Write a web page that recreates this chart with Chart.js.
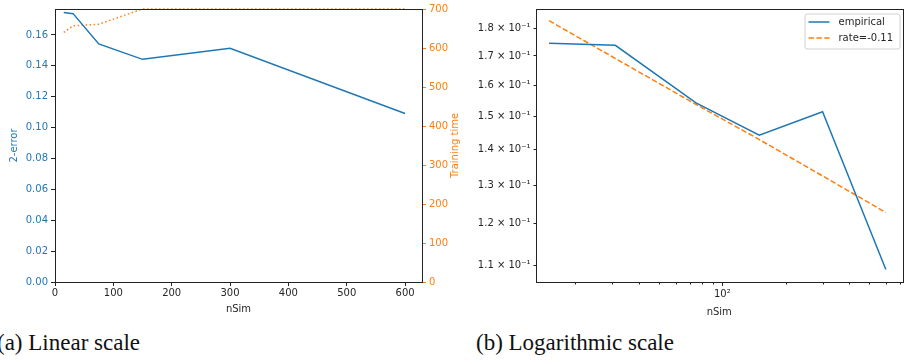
<!DOCTYPE html>
<html>
<head>
<meta charset="utf-8">
<script src="https://cdn.jsdelivr.net/npm/chart.js@4.4.1/dist/chart.umd.min.js"></script>
<style>
  body { margin: 0; background: #fff; width: 904px; height: 364px; overflow: hidden; position: relative; }
  .box { position: absolute; top: 0; height: 320px; }
  .cap { position: absolute; top: 330px; font-family: "Liberation Serif", serif; font-size: 23px; color: #111; white-space: nowrap; }
</style>
</head>
<body>
<div class="box" style="left:0;width:460px"><canvas id="linChart" width="460" height="320"></canvas></div>
<div class="box" style="left:460px;width:444px"><canvas id="logChart" width="444" height="320"></canvas></div>
<div class="cap" style="left:-3px">(a) Linear scale</div>
<div class="cap" style="left:476px">(b) Logarithmic scale</div>
<script>
const nSim = [15, 31, 75, 150, 300, 600]
const l2Error = [0.1745, 0.1738, 0.1542, 0.1442, 0.1514, 0.1091]
const trainingTime = [640, 657, 661, 700, 700, 700]
const rateFit = [0.1829, 0.1691, 0.1537, 0.1429, 0.1325, 0.1228]

const linXTicks = [0, 100, 200, 300, 400, 500, 600]
const errTicks = [0, 0.02, 0.04, 0.06, 0.08, 0.10, 0.12, 0.14, 0.16]
const timeTicks = [0, 100, 200, 300, 400, 500, 600, 700]
const logXTicks = [20, 30, 40, 50, 60, 70, 80, 90, 100, 200, 300, 400, 500, 600, 700]
const logXMajor = [100]
const logYTicks = [0.11, 0.12, 0.13, 0.14, 0.15, 0.16, 0.17, 0.18]

const blue = '#1f77b4'
const orange = '#ff7f0e'
const txt = '#262626'
Chart.defaults.font.family = 'DejaVu Sans'
Chart.defaults.font.size = 10
Chart.defaults.animation = false

const pts = (xs, ys) => xs.map((x, i) => ({ x: x, y: ys[i] }))
const setTicks = vals => scale => { scale.ticks = vals.map(v => ({ value: v })) }

// black box around the plot area, like matplotlib spines
const frame = {
  id: 'frame',
  afterDraw(chart) {
    const a = chart.chartArea, ctx = chart.ctx
    ctx.save()
    ctx.strokeStyle = '#222'
    ctx.lineWidth = 1
    ctx.strokeRect(Math.round(a.left) + 0.5, Math.round(a.top) + 0.5, Math.round(a.right - a.left), Math.round(a.bottom - a.top))
    ctx.restore()
  }
}

// right axis title, reading bottom to top like matplotlib
const rightTitle = {
  id: 'rightTitle',
  afterDraw(chart) {
    const s = chart.scales.y2, ctx = chart.ctx
    ctx.save()
    ctx.translate(s.right - 5, (chart.chartArea.top + chart.chartArea.bottom) / 2)
    ctx.rotate(-Math.PI / 2)
    ctx.font = '10px "DejaVu Sans"'
    ctx.fillStyle = orange
    ctx.textAlign = 'center'
    ctx.textBaseline = 'middle'
    ctx.fillText('Training time', 0, 0)
    ctx.restore()
  }
}

// minor ticks on the log x axis (shorter than major)
const minorTicks = {
  id: 'minorTicks',
  afterDraw(chart) {
    const s = chart.scales.x, ctx = chart.ctx
    const y0 = Math.round(chart.chartArea.bottom)
    ctx.save()
    ctx.strokeStyle = '#222'
    ctx.lineWidth = 1
    logXTicks.filter(v => !logXMajor.includes(v)).forEach(v => {
      const px = Math.round(s.getPixelForValue(v)) + 0.5
      ctx.beginPath(); ctx.moveTo(px, y0); ctx.lineTo(px, y0 + 2.5); ctx.stroke()
    })
    ctx.restore()
  }
}

const insideLegend = {
  id: 'insideLegend',
  afterDraw(chart) {
    const a = chart.chartArea, ctx = chart.ctx
    const w = 95, h = 35
    const x0 = a.right - 3 - w, y0 = a.top + 4.5
    ctx.save()
    ctx.fillStyle = 'rgba(255,255,255,0.8)'
    ctx.strokeStyle = '#d0d0d0'
    ctx.lineWidth = 1
    ctx.beginPath(); ctx.roundRect(x0 + 0.5, y0 + 0.5, w, h, 2); ctx.fill(); ctx.stroke()
    ctx.font = '10px "DejaVu Sans"'
    ctx.textBaseline = 'middle'
    chart.data.datasets.forEach((ds, i) => {
      const yy = y0 + 8.5 + i * 16
      ctx.strokeStyle = ds.borderColor
      ctx.lineWidth = 1.5
      ctx.setLineDash(ds.borderDash || [])
      ctx.beginPath(); ctx.moveTo(x0 + 4, yy); ctx.lineTo(x0 + 25, yy); ctx.stroke()
      ctx.setLineDash([])
      ctx.fillStyle = txt
      ctx.fillText(ds.label, x0 + 34, yy)
    })
    ctx.restore()
  }
}

new Chart(document.getElementById('linChart'), {
  type: 'line',
  data: {
    datasets: [
      { label: '2-error', data: pts(nSim, l2Error), borderColor: blue, borderWidth: 1.5, pointRadius: 0, yAxisID: 'y', clip: 1 },
      { label: 'Training time', data: pts(nSim, trainingTime), borderColor: orange, borderWidth: 1.5, borderDash: [1.5, 2.5], pointRadius: 0, yAxisID: 'y2', clip: 1 }
    ]
  },
  options: {
    responsive: false,
    layout: { padding: { top: 8, left: 0, right: 0, bottom: 0 } },
    plugins: { legend: { display: false }, tooltip: { enabled: false } },
    scales: {
      x: {
        type: 'linear', min: 0, max: 629,
        afterBuildTicks: setTicks(linXTicks),
        afterFit: s => { s.height = 38 },
        grid: { drawOnChartArea: false, tickLength: 4, tickColor: '#222' },
        border: { display: false },
        ticks: { color: txt, padding: 1, maxRotation: 0, autoSkip: false },
        title: { display: true, text: 'nSim', color: txt, padding: { top: 0, bottom: 5 } }
      },
      y: {
        type: 'linear', position: 'left', min: 0, max: 0.1768,
        afterBuildTicks: setTicks(errTicks),
        afterFit: s => { s.width = 55 },
        grid: { drawOnChartArea: false, tickLength: 4, tickColor: '#222' },
        border: { display: false },
        ticks: { color: blue, padding: 3, callback: v => v.toFixed(2) },
        title: { display: true, text: '2-error', color: blue, padding: { top: 8, bottom: 0 } }
      },
      y2: {
        type: 'linear', position: 'right', min: 0, max: 700,
        afterBuildTicks: setTicks(timeTicks),
        afterFit: s => { s.width = 38 },
        grid: { drawOnChartArea: false, tickLength: 4, tickColor: orange },
        border: { display: false },
        ticks: { color: orange, padding: 3 }
      }
    }
  },
  plugins: [frame, rightTitle]
})

new Chart(document.getElementById('logChart'), {
  type: 'line',
  data: {
    datasets: [
      { label: 'empirical', data: pts(nSim, l2Error), borderColor: blue, borderWidth: 1.5, pointRadius: 0 },
      { label: 'rate=-0.11', data: pts(nSim, rateFit), borderColor: orange, borderWidth: 1.5, borderDash: [5.5, 2.4], pointRadius: 0 }
    ]
  },
  options: {
    responsive: false,
    layout: { padding: { top: 8, left: 0, right: 1.5, bottom: 0 } },
    plugins: { legend: { display: false }, tooltip: { enabled: false } },
    scales: {
      x: {
        type: 'logarithmic', min: 13, max: 720,
        afterBuildTicks: setTicks(logXTicks),
        afterFit: s => { s.height = 38 },
        grid: { drawOnChartArea: false, tickLength: 4, tickColor: c => logXMajor.includes(c.tick.value) ? '#222' : 'rgba(0,0,0,0)' },
        border: { display: false },
        ticks: { color: txt, padding: 2, maxRotation: 0, autoSkip: false, callback: v => logXMajor.includes(v) ? '10²' : '' },
        title: { display: true, text: 'nSim', color: txt, padding: { top: 0, bottom: 2 } }
      },
      y: {
        type: 'logarithmic', min: 0.1063, max: 0.1874,
        afterBuildTicks: setTicks(logYTicks),
        afterFit: s => { s.width = 76 },
        grid: { drawOnChartArea: false, tickLength: 2.5, tickColor: '#222' },
        border: { display: false },
        ticks: { color: txt, padding: 3, autoSkip: false, callback: v => (v * 10).toFixed(1) + ' × 10⁻¹' }
      }
    }
  },
  plugins: [frame, minorTicks, insideLegend]
})
</script>
</body>
</html>
